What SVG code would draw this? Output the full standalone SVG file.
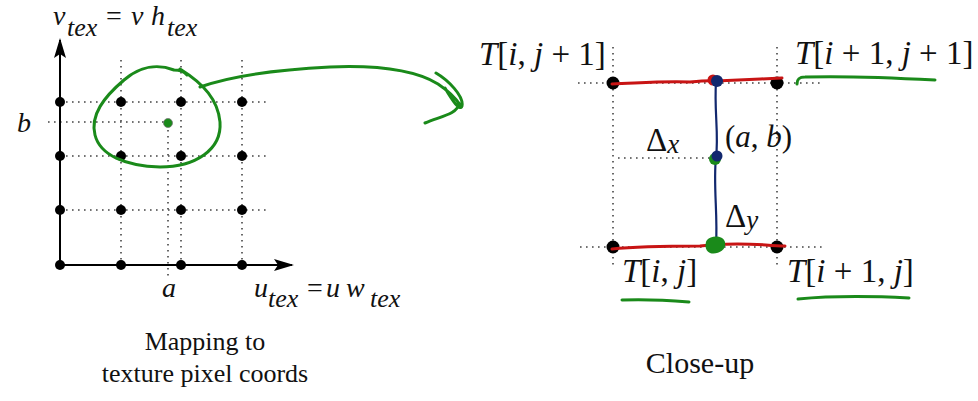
<svg xmlns="http://www.w3.org/2000/svg" width="978" height="401" viewBox="0 0 978 401">
<style>
.dot{stroke:#444;stroke-width:1.6;stroke-dasharray:1.6 4.4;fill:none}
.pt{fill:#000}
.t{fill:#111}
.it{font-style:italic}
.grn{stroke:#1a8a1a;stroke-width:3;fill:none;stroke-linecap:round;stroke-linejoin:round}
.red{stroke:#c81414;stroke-width:3;fill:none;stroke-linecap:round}
.blu{stroke:#12286e;stroke-width:2.2;fill:none;stroke-linecap:round}
</style>
<defs>
<marker id="ah" viewBox="0 0 20 12" refX="18" refY="6" markerWidth="20" markerHeight="12" markerUnits="userSpaceOnUse" orient="auto">
<path d="M0,0 L20,6 L0,12 L4,6 Z" fill="#000"/>
</marker>
</defs>
<rect width="978" height="401" fill="#fff"/>

<g id="left-grid">
<path class="dot" d="M60 102H266M60 156H266M60 210H266M121 60V266M181 60V266M242 60V266"/>
<path class="dot" d="M48 122H166M168 124V276"/>
<line x1="60" y1="265" x2="60" y2="40" stroke="#000" stroke-width="2" marker-end="url(#ah)"/>
<line x1="60" y1="265" x2="292" y2="265" stroke="#000" stroke-width="2" marker-end="url(#ah)"/>
<g class="pt">
<circle cx="60" cy="102" r="5"/><circle cx="121" cy="102" r="5"/><circle cx="181" cy="102" r="5"/><circle cx="242" cy="102" r="5"/>
<circle cx="60" cy="156" r="5"/><circle cx="121" cy="156" r="5"/><circle cx="181" cy="156" r="5"/><circle cx="242" cy="156" r="5"/>
<circle cx="60" cy="210" r="5"/><circle cx="121" cy="210" r="5"/><circle cx="181" cy="210" r="5"/><circle cx="242" cy="210" r="5"/>
<circle cx="60" cy="265" r="5"/><circle cx="121" cy="265" r="5"/><circle cx="181" cy="265" r="5"/><circle cx="242" cy="265" r="5"/>
</g>
<circle cx="168" cy="123" r="4.5" fill="#1a8a1a" stroke="#777" stroke-width="0.8"/>
</g>

<g id="left-labels" class="t" font-family="'Liberation Serif', 'Times New Roman', 'DejaVu Serif', serif">
<text class="it" font-size="28" y="25"><tspan x="53">v</tspan><tspan x="67" y="36" font-size="26">tex</tspan><tspan x="106" y="25" font-style="normal">=</tspan><tspan x="131">v</tspan><tspan x="151">h</tspan><tspan x="167" y="36" font-size="26">tex</tspan></text>
<text class="it" font-size="28" x="17" y="132">b</text>
<text class="it" font-size="28" x="162" y="297">a</text>
<text class="it" font-size="28" y="297"><tspan x="254">u</tspan><tspan x="268" y="307" font-size="26">tex</tspan><tspan x="307" y="297" font-style="normal">=</tspan><tspan x="326">u</tspan><tspan x="346">w</tspan><tspan x="370" y="307" font-size="26">tex</tspan></text>
<text font-size="26" x="205" y="350" text-anchor="middle">Mapping to</text>
<text font-size="26" x="205" y="382" text-anchor="middle">texture pixel coords</text>
</g>

<g id="right-grid">
<path class="dot" d="M613 47V267M777 47V267M578 83H820M580 247H822M618 158H712"/>
<g class="pt">
<circle cx="613" cy="83" r="6.5"/><circle cx="777" cy="83" r="6.5"/>
<circle cx="613" cy="247" r="6.5"/><circle cx="777" cy="247" r="6.5"/>
</g>
</g>

<g id="right-labels" class="t" font-size="33" font-family="'Liberation Serif', 'Times New Roman', 'DejaVu Serif', serif">
<text x="479" y="65"><tspan class="it">T</tspan>[<tspan class="it">i</tspan>, <tspan class="it">j</tspan> + 1]</text>
<text x="795" y="64"><tspan class="it">T</tspan>[<tspan class="it">i</tspan> + 1, <tspan class="it">j</tspan> + 1]</text>
<text x="622" y="282"><tspan class="it">T</tspan>[<tspan class="it">i</tspan>, <tspan class="it">j</tspan>]</text>
<text x="787" y="282"><tspan class="it">T</tspan>[<tspan class="it">i</tspan> + 1, <tspan class="it">j</tspan>]</text>
<text x="646" y="151" font-size="33">Δ<tspan class="it" font-size="27" y="153">x</tspan></text>
<text x="725" y="227" font-size="33">Δ<tspan class="it" font-size="27" y="229">y</tspan></text>
<text x="725" y="147" font-size="31">(<tspan class="it">a</tspan>, <tspan class="it">b</tspan>)</text>
<text font-size="30" x="700" y="373" text-anchor="middle">Close-up</text>
</g>

<g id="connectors">
<path class="grn" d="M187 75 C183 70,178 70,174 70 C158 64,140 66,124 80 C104 97,90 115,95 135 C100 155,125 166,160 167 C195 167,222 150,220 122 C218 100,204 84,180 69"/>
<path class="grn" d="M200 87 C225 78,270 70,330 67 C380 65,415 70,438 84 C450 92,457 100,461 106 M436 73 C448 80,464 96,462 106 C460 112,452 100,445 88 M459 104 C457 114,442 116,425 123"/>
<path class="red" d="M612 84 C640 83,660 81,690 82 C700 81,710 80,716 81 C740 80,760 79,782 78"/>
<path class="red" d="M612 249 C640 246,670 246,700 246 C708 245,712 245,716 245 C740 242,760 245,785 246"/>
<path class="blu" d="M716 82 C714 110,719 135,716 157 C713 185,718 215,716 245"/>
<circle cx="713" cy="80" r="5.5" fill="#c81414"/>
<circle cx="717" cy="81" r="6" fill="#12286e"/>
<circle cx="715" cy="159" r="6" fill="#1a8a1a"/>
<circle cx="717" cy="156" r="5.5" fill="#12286e"/>
<path d="M707 240 C711 235,723 235,725 242 C727 251,716 255,710 253 C704 250,705 243,707 240 Z" fill="#1a8a1a"/>
<path class="grn" d="M797 84 C797 79,799 77,805 77 C840 76,880 77,935 80"/>
<path class="grn" d="M622 300 C645 299,665 300,689 302"/>
<path class="grn" d="M798 299 C830 296,870 296,909 298"/>
</g>
</svg>
